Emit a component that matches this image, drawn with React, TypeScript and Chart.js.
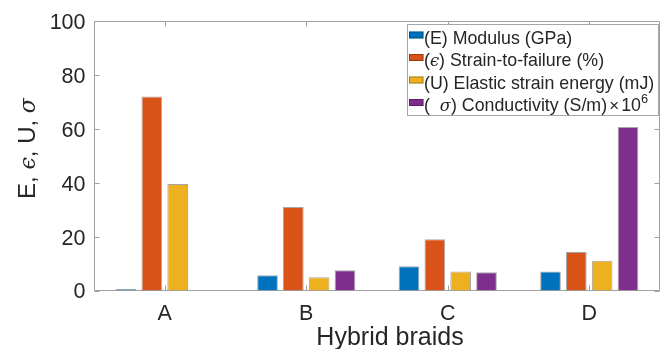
import React, { useEffect, useRef } from 'react';
import { Chart, registerables } from 'chart.js';

Chart.register(...registerables);

// ---------- data ----------
const categories = ['A', 'B', 'C', 'D'];
const modulus = [0.6, 5.7, 9.0, 7.1];
const strainToFailure = [72.1, 31.0, 19.0, 14.3];
const elasticEnergy = [39.6, 4.9, 7.1, 11.1];
const conductivity = [null, 7.5, 6.8, 60.8];
const yTicks = [0, 20, 40, 60, 80, 100];
const seriesColors = ['#0072BD', '#D95319', '#EDB120', '#7E2F8E'];

type Seg = { t: string; it?: boolean; sup?: boolean; op?: boolean };
const legendLabels: Seg[][] = [
  [{ t: '(E) Modulus (GPa)' }],
  [{ t: '(' }, { t: 'ϵ', it: true }, { t: ') Strain-to-failure (%)' }],
  [{ t: '(U) Elastic strain energy (mJ)' }],
  [{ t: '(  ' }, { t: 'σ', it: true }, { t: ') Conductivity (S/m)' }, { t: '×', op: true }, { t: '10' }, { t: '6', sup: true }],
];
const yTitle: Seg[] = [{ t: 'E, ' }, { t: 'ϵ', it: true }, { t: ', U, ' }, { t: 'σ', it: true }];
const xTitle = 'Hybrid braids';

// ---------- styling ----------
const SANS = '"Liberation Sans", Arial, Helvetica, sans-serif';
const MATH = '"DejaVu Serif", serif';
const TEXT = '#262626';
const AXIS = '#a0a0a0';

function segFont(s: Seg, size: number) {
  if (s.sup) return `${size * 0.72}px ${SANS}`;
  if (s.it) return `italic ${size * 0.92}px ${MATH}`;
  if (s.op) return `${size * 0.95}px ${SANS}`;
  return `${size}px ${SANS}`;
}

function segAdvance(ctx: CanvasRenderingContext2D, s: Seg, size: number) {
  ctx.font = segFont(s, size);
  const w = ctx.measureText(s.t).width;
  return s.op ? w + size * 0.24 : w;
}

function segsWidth(ctx: CanvasRenderingContext2D, segs: Seg[], size: number) {
  let w = 0;
  for (const s of segs) w += segAdvance(ctx, s, size);
  return w;
}

function drawSegs(ctx: CanvasRenderingContext2D, segs: Seg[], x: number, y: number, size: number) {
  let cx = x;
  ctx.textAlign = 'left';
  ctx.textBaseline = 'alphabetic';
  for (const s of segs) {
    const adv = segAdvance(ctx, s, size);
    ctx.font = segFont(s, size);
    const off = s.op ? size * 0.12 : 0;
    ctx.fillText(s.t, cx + off, s.sup ? y - size * 0.45 : y);
    cx += adv;
  }
}

const framePlugin = {
  id: 'matlabFrame',
  beforeDatasetsDraw(chart: any) {
    const { ctx, chartArea } = chart;
    const { left, right, top, bottom } = chartArea;
    const L = Math.round(left) + 0.5;
    const R = Math.round(right) - 0.5;
    const T = Math.round(top) + 0.5;
    const B = Math.round(bottom) - 0.5;
    ctx.save();
    ctx.strokeStyle = AXIS;
    ctx.lineWidth = 1;
    ctx.beginPath();
    ctx.rect(L, T, R - L, B - T);
    const ys = chart.scales.y;
    for (const v of yTicks) {
      const py = Math.round(ys.getPixelForValue(v)) + 0.5;
      ctx.moveTo(L, py);
      ctx.lineTo(L + 5, py);
      ctx.moveTo(R, py);
      ctx.lineTo(R - 5, py);
    }
    const xs = chart.scales.x;
    categories.forEach((_, i) => {
      const px = Math.round(xs.getPixelForValue(i)) + 0.5;
      ctx.moveTo(px, B);
      ctx.lineTo(px, B - 5);
      ctx.moveTo(px, T);
      ctx.lineTo(px, T + 5);
    });
    ctx.stroke();
    ctx.restore();
  },
  afterDraw(chart: any) {
    const { ctx } = chart;
    ctx.save();
    ctx.fillStyle = TEXT;

    // x title
    ctx.font = `25px ${SANS}`;
    ctx.textAlign = 'center';
    ctx.textBaseline = 'alphabetic';
    ctx.fillText(xTitle, 390, 345);

    // y title (rotated)
    const ySize = 24;
    const yw = segsWidth(ctx, yTitle, ySize);
    ctx.save();
    ctx.translate(35, 148.5);
    ctx.rotate(-Math.PI / 2);
    drawSegs(ctx, yTitle, -yw / 2, 0, ySize);
    ctx.restore();

    // legend
    const bx = 407.5, by = 24.5, bw = 251, bh = 91;
    ctx.fillStyle = '#ffffff';
    ctx.fillRect(bx, by, bw, bh);
    ctx.strokeStyle = '#a6a6a6';
    ctx.lineWidth = 1;
    ctx.strokeRect(bx, by, bw, bh);
    const baselines = [43.5, 66, 88.5, 111];
    const lSize = 17.8;
    legendLabels.forEach((segs, i) => {
      const bl = baselines[i];
      ctx.fillStyle = seriesColors[i];
      ctx.fillRect(409, bl - 12, 14.5, 7);
      ctx.strokeStyle = 'rgba(0,0,0,0.3)';
      ctx.strokeRect(409.5, bl - 11.5, 13.5, 6);
      ctx.fillStyle = TEXT;
      drawSegs(ctx, segs, 424, bl, lSize);
    });
    ctx.restore();
  },
};

export default function App() {
  const ref = useRef<HTMLCanvasElement>(null);
  useEffect(() => {
    document.body.style.margin = '0';
    const series = [modulus, strainToFailure, elasticEnergy, conductivity];
    const chart = new Chart(ref.current as HTMLCanvasElement, {
      type: 'bar',
      data: {
        labels: categories,
        datasets: series.map((d, i) => ({
          label: legendLabels[i].map((s) => s.t).join(''),
          data: d as any,
          backgroundColor: seriesColors[i],
          borderColor: 'rgba(0,0,0,0.35)',
          borderWidth: 1,
          borderSkipped: 'start',
          categoryPercentage: 0.73,
          barPercentage: 0.8,
        })),
      },
      options: {
        responsive: false,
        animation: false,
        devicePixelRatio: 1,
        layout: { padding: { top: 20, right: 12, bottom: 0, left: 0 } },
        plugins: {
          legend: { display: false },
          tooltip: { enabled: false },
          title: { display: false },
        },
        scales: {
          x: {
            type: 'category',
            grid: { display: false, drawTicks: false },
            border: { display: false },
            ticks: {
              color: TEXT,
              font: { family: SANS, size: 21.5 },
              padding: 10.5,
              maxRotation: 0,
            },
            afterFit: (s: any) => {
              s.height = 58.5;
            },
          },
          y: {
            type: 'linear',
            min: 0,
            max: 100,
            grid: { display: false, drawTicks: false },
            border: { display: false },
            ticks: {
              color: TEXT,
              font: { family: SANS, size: 21.5 },
              padding: 8.5,
              labelOffset: 2,
            },
            afterBuildTicks: (s: any) => {
              s.ticks = yTicks.map((v) => ({ value: v }));
            },
            afterFit: (s: any) => {
              s.width = 94;
            },
          },
        },
      },
      plugins: [framePlugin],
    });
    return () => chart.destroy();
  }, []);
  return (
    <div style={{ width: 672, height: 349 }}>
      <canvas ref={ref} width={672} height={349} style={{ display: 'block' }} />
    </div>
  );
}
